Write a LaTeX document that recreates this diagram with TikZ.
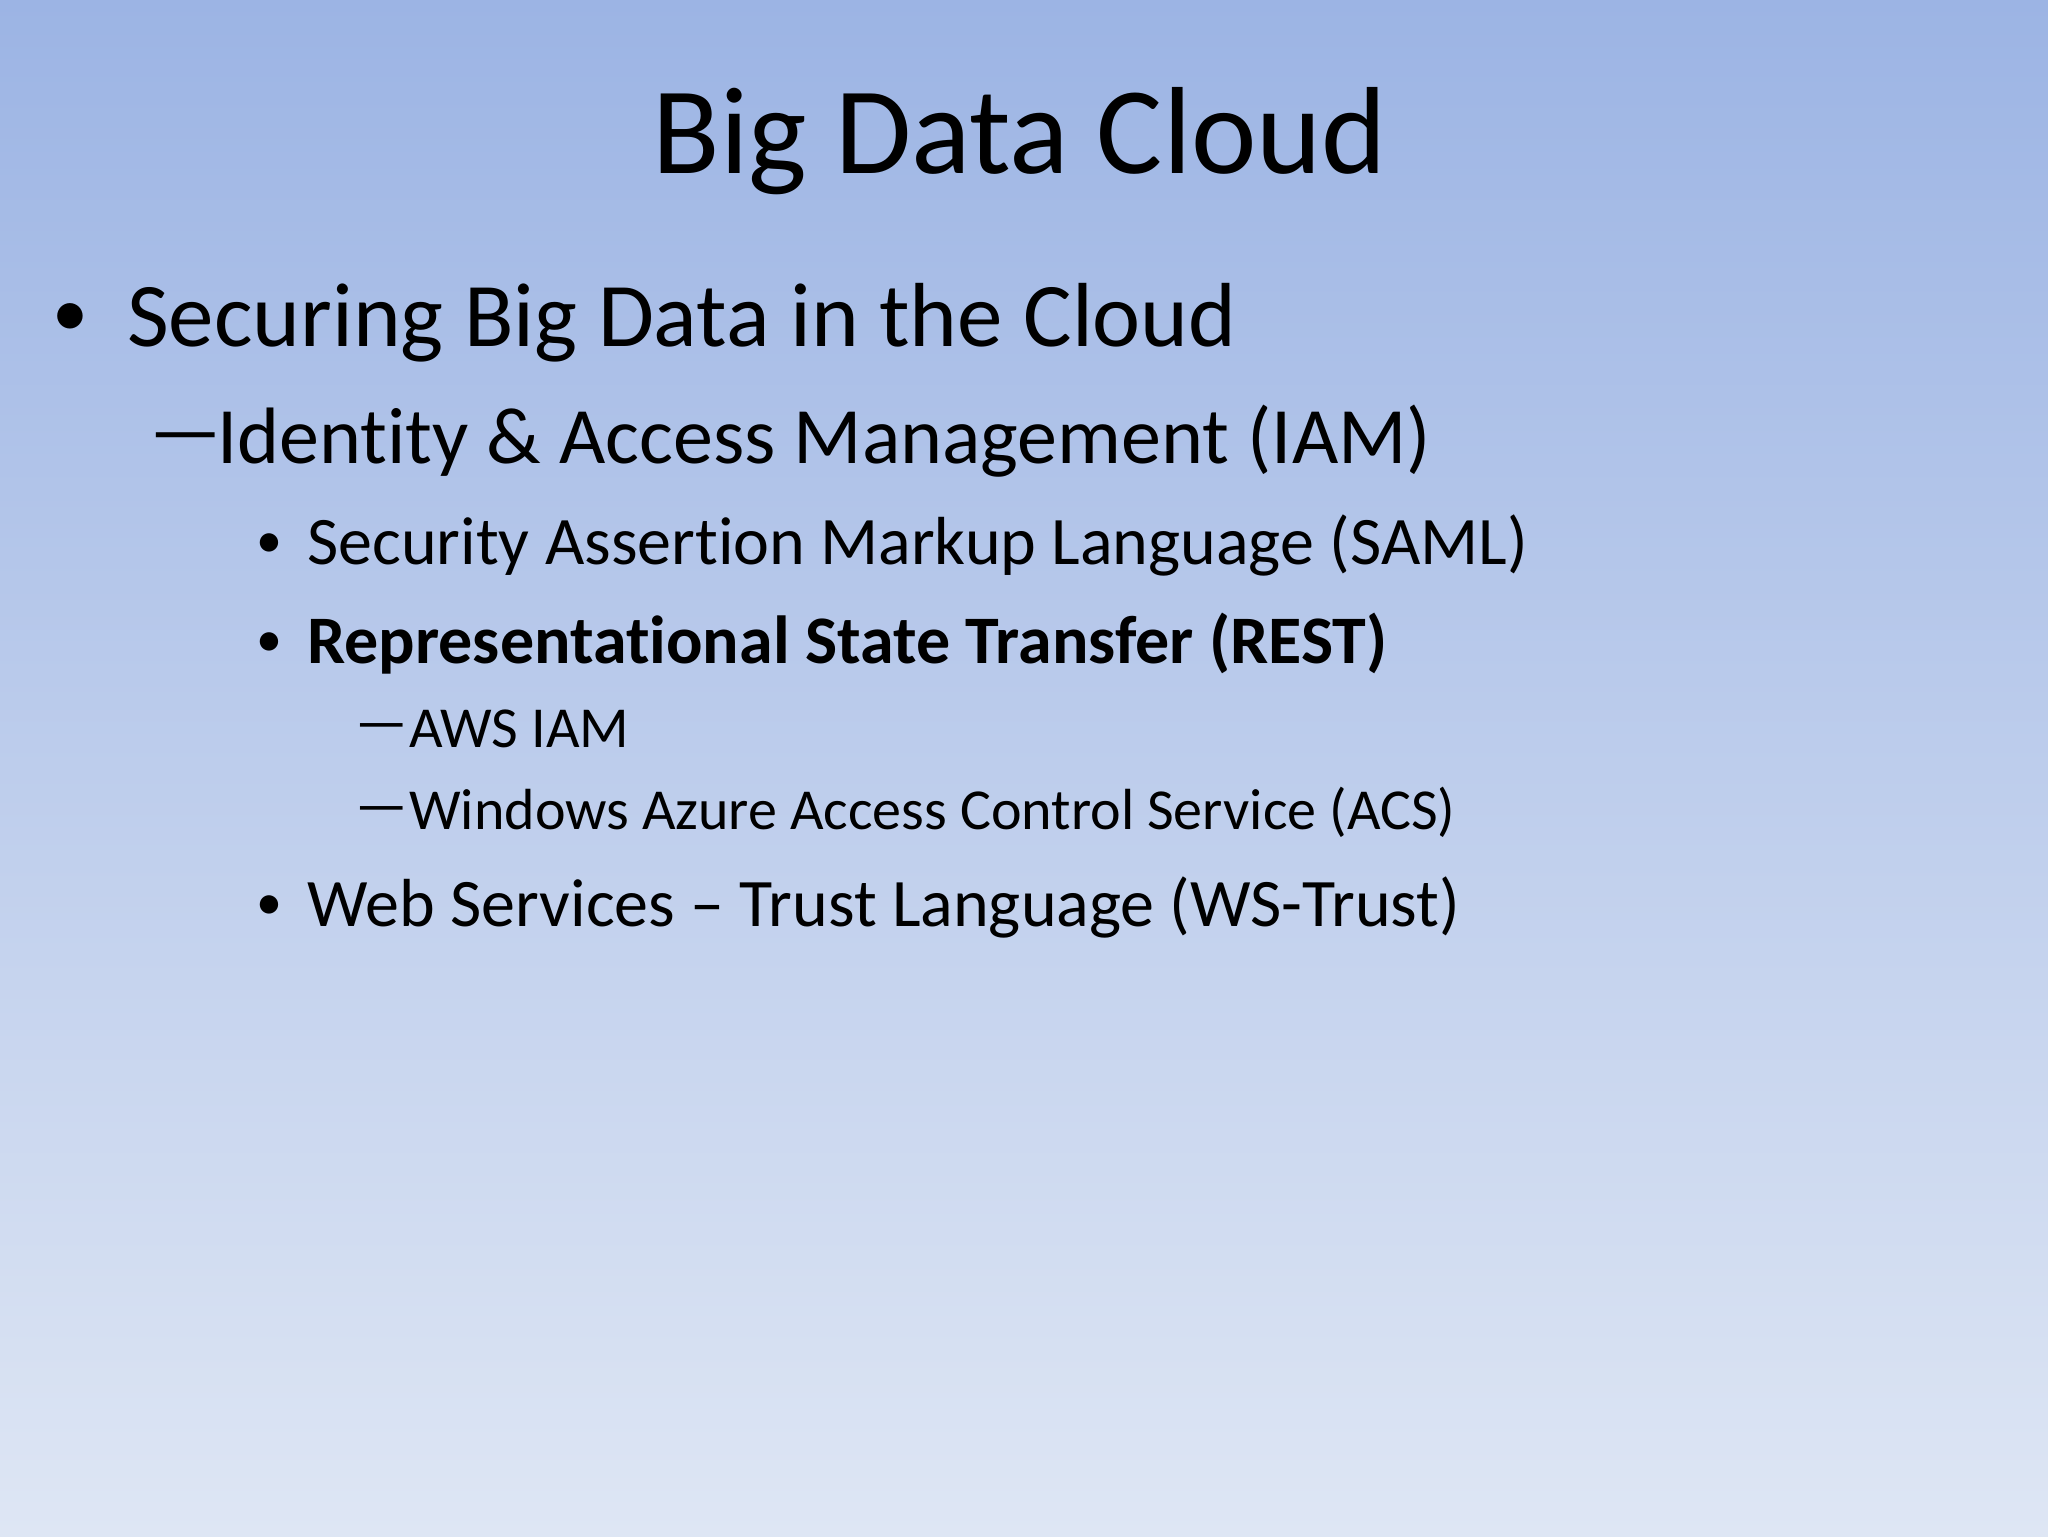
\documentclass[tikz,border=0pt]{standalone}
\usepackage{fontspec}
\setmainfont[Ligatures={NoCommon}]{Carlito}
\begin{document}
\begin{tikzpicture}[x=0.65306pt,y=-0.65306pt,
  t/.style={anchor=base west,inner sep=0pt,text=black}]
\definecolor{topc}{RGB}{156,180,228}
\definecolor{botc}{RGB}{222,230,244}
\shade[top color=topc,bottom color=botc] (0,0) rectangle (1568,1176);
\useasboundingbox (0,0) rectangle (1568,1176);
\node[anchor=base,inner sep=0pt] (title) at (781,133) {\fontsize{62}{66}\selectfont Big Data Cloud};
\node[t] (b1) at (40,258) {\fontsize{36}{40}\selectfont •};
\node[t] (l1) at (97,265) {\fontsize{45.5}{50}\selectfont Securing Big Data in the Cloud};
\node[t] (d2) at (114,350) {\fontsize{40}{44}\selectfont —};
\node[t] (l2) at (166,355) {\fontsize{40}{44}\selectfont Identity \& Access Management (IAM)};
\node[t] (b3a) at (196,427) {\fontsize{26}{30}\selectfont •};
\node[t] (l3a) at (235,432) {\fontsize{34}{38}\selectfont Security Assertion Markup Language (SAML)};
\node[t] (b3b) at (196,503) {\fontsize{26}{30}\selectfont •};
\node[t] (l3b) at (235,508) {\fontsize{34}{38}\selectfont\bfseries Representational State Transfer (REST)};
\node[t] (d4a) at (272,568) {\fontsize{29}{33}\selectfont —};
\node[t] (l4a) at (313,572) {\fontsize{29}{33}\selectfont AWS IAM};
\node[t] (d4b) at (272,631) {\fontsize{29}{33}\selectfont —};
\node[t] (l4b) at (313,635) {\fontsize{29}{33}\selectfont Windows Azure Access Control Service (ACS)};
\node[t] (b3c) at (196,704) {\fontsize{26}{30}\selectfont •};
\node[t] (l3c) at (235,709) {\fontsize{34}{38}\selectfont Web Services – Trust Language (WS-Trust)};
\end{tikzpicture}
\end{document}
